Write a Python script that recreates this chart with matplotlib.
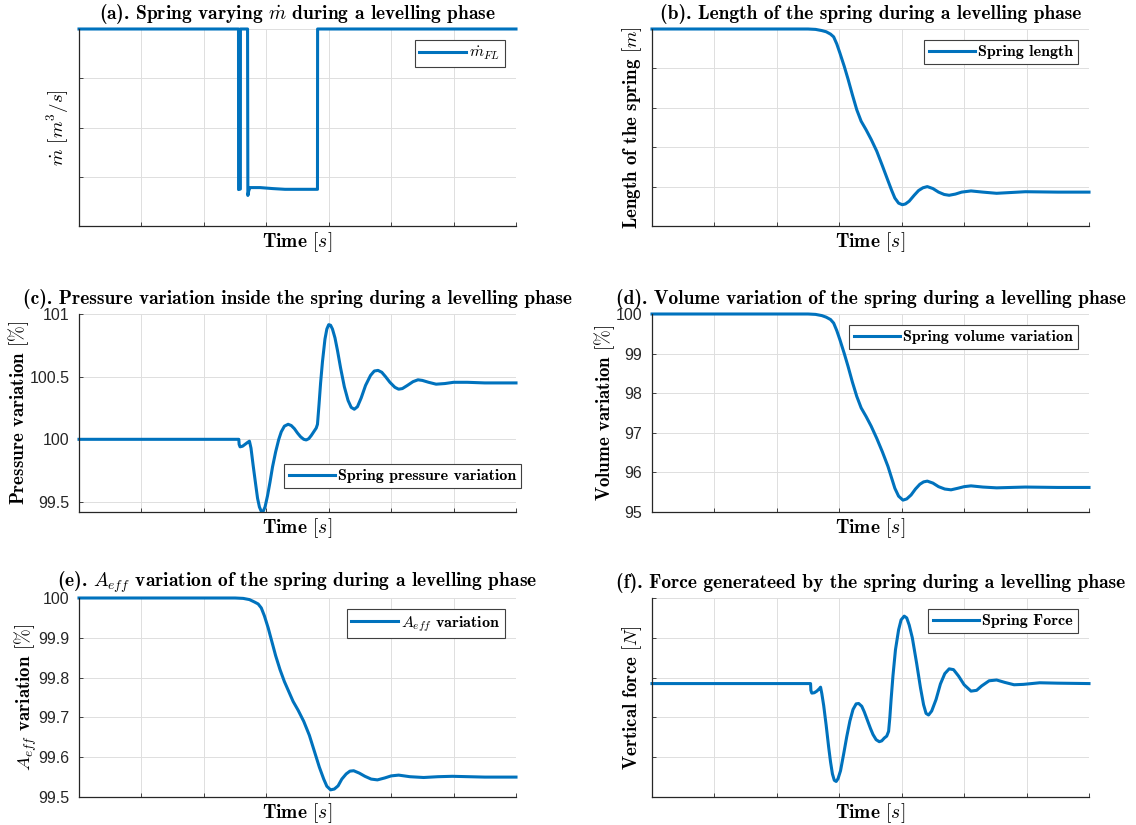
import numpy as np
import matplotlib.pyplot as plt

plt.rcParams['mathtext.fontset'] = 'cm'
plt.rcParams['axes.unicode_minus'] = False

BLUE = '#0072BD'
DARK = '#262626'
GRID = '#dedede'
BOLD = 'cmb10'

# time is given in grid divisions: the time axis carries no labels
# (a) flow rate, in divisions of the (unlabelled) y axis
t_mdot = [0, 2.555, 2.556, 2.585, 2.586, 2.70, 2.705, 2.72, 2.74, 2.90,
          3.10, 3.30, 3.82, 3.822, 7]
mdot = [4, 4, 0.74, 0.75, 4, 4, 0.62, 0.72, 0.78, 0.78,
        0.76, 0.745, 0.745, 4, 4]

# (b) spring length, in divisions of the (unlabelled) y axis
t_len = [0, 2.50, 2.62, 2.72, 2.79, 2.86, 2.91, 2.96, 3.01, 3.08, 3.14, 3.21,
         3.28, 3.35, 3.43, 3.51, 3.60, 3.69, 3.78, 3.84, 3.89, 3.95, 4.01,
         4.06, 4.12, 4.20, 4.27, 4.34, 4.41, 4.50, 4.59, 4.68, 4.76, 4.86,
         4.96, 5.11, 5.30, 5.52, 5.75, 5.98, 6.5, 7]
length = [5, 5, 4.99, 4.96, 4.93, 4.87, 4.80, 4.62, 4.39, 4.05, 3.73, 3.33,
          2.95, 2.66, 2.44, 2.20, 1.90, 1.53, 1.15, 0.90, 0.71, 0.58, 0.54,
          0.56, 0.63, 0.78, 0.90, 0.97, 1.00, 0.95, 0.86, 0.80, 0.78, 0.81,
          0.86, 0.89, 0.86, 0.83, 0.85, 0.87, 0.86, 0.86]

# (c) pressure variation [%]
t_press = [0, 2.56, 2.565, 2.58, 2.62, 2.66, 2.70, 2.73, 2.755, 2.79, 2.83,
           2.86, 2.89, 2.92, 2.95, 2.98, 3.02, 3.06, 3.10, 3.15, 3.20, 3.24,
           3.29, 3.35, 3.40, 3.45, 3.50, 3.55, 3.60, 3.64, 3.68, 3.72, 3.76,
           3.80, 3.82, 3.845, 3.87, 3.90, 3.94, 3.97, 4.00, 4.03, 4.06, 4.10,
           4.14, 4.19, 4.25, 4.31, 4.36, 4.41, 4.46, 4.52, 4.59, 4.67, 4.73,
           4.79, 4.85, 4.91, 4.98, 5.06, 5.12, 5.18, 5.26, 5.35, 5.43, 5.50,
           5.60, 5.72, 5.86, 6.00, 6.22, 6.50, 7]
press = [100, 100, 99.96, 99.94, 99.945, 99.96, 99.975, 99.985, 99.93,
         99.79, 99.64, 99.53, 99.46, 99.425, 99.425, 99.46, 99.55, 99.66,
         99.78, 99.90, 100.00, 100.06, 100.105, 100.12, 100.11, 100.085,
         100.05, 100.02, 100.0, 99.995, 100.005, 100.03, 100.06, 100.09,
         100.12, 100.28, 100.45, 100.62, 100.80, 100.88, 100.915, 100.91,
         100.88, 100.81, 100.71, 100.57, 100.42, 100.31, 100.255, 100.24,
         100.26, 100.33, 100.43, 100.51, 100.545, 100.55, 100.535, 100.50,
         100.455, 100.415, 100.40, 100.405, 100.43, 100.46, 100.475, 100.47,
         100.455, 100.44, 100.445, 100.455, 100.455, 100.45, 100.45]

# (d) volume variation [%]
t_vol = [0, 2.50, 2.62, 2.72, 2.79, 2.86, 2.91, 2.96, 3.01, 3.08, 3.14, 3.21,
         3.28, 3.35, 3.43, 3.51, 3.60, 3.69, 3.78, 3.84, 3.89, 3.95, 4.02,
         4.08, 4.15, 4.22, 4.29, 4.35, 4.41, 4.50, 4.59, 4.69, 4.79, 4.90,
         5.00, 5.11, 5.30, 5.52, 5.75, 5.98, 6.5, 7]
volume = [100, 100, 99.99, 99.96, 99.92, 99.86, 99.77, 99.58, 99.35, 99.00,
          98.68, 98.28, 97.92, 97.63, 97.41, 97.17, 96.86, 96.52, 96.15,
          95.85, 95.60, 95.40, 95.30, 95.33, 95.43, 95.58, 95.70, 95.76,
          95.78, 95.73, 95.64, 95.58, 95.56, 95.60, 95.64, 95.66, 95.63,
          95.61, 95.62, 95.63, 95.62, 95.62]

# (e) effective area variation [%]
t_area = [0, 2.50, 2.63, 2.73, 2.81, 2.87, 2.92, 2.97, 3.03, 3.09, 3.15,
          3.22, 3.29, 3.36, 3.43, 3.51, 3.60, 3.69, 3.77, 3.85, 3.92, 3.97,
          4.03, 4.09, 4.15, 4.21, 4.28, 4.34, 4.40, 4.49, 4.58, 4.68, 4.78,
          4.90, 5.00, 5.12, 5.30, 5.52, 5.75, 5.98, 6.5, 7]
area = [100, 100, 99.999, 99.996, 99.99, 99.985, 99.975, 99.955, 99.925,
        99.89, 99.855, 99.82, 99.79, 99.765, 99.74, 99.718, 99.69, 99.655,
        99.615, 99.575, 99.545, 99.527, 99.518, 99.52, 99.528, 99.545,
        99.558, 99.565, 99.566, 99.56, 99.552, 99.545, 99.543, 99.548,
        99.553, 99.555, 99.551, 99.549, 99.551, 99.552, 99.55, 99.55]

# (f) vertical force, in divisions of the (unlabelled) y axis
t_force = [0, 2.54, 2.545, 2.56, 2.60, 2.64, 2.68, 2.70, 2.72, 2.75, 2.79,
           2.83, 2.86, 2.89, 2.92, 2.95, 2.98, 3.02, 3.07, 3.12, 3.17, 3.22,
           3.27, 3.31, 3.36, 3.40, 3.45, 3.50, 3.54, 3.59, 3.64, 3.68, 3.72,
           3.76, 3.79, 3.81, 3.83, 3.86, 3.90, 3.95, 3.99, 4.04, 4.08, 4.12,
           4.17, 4.24, 4.30, 4.35, 4.39, 4.43, 4.48, 4.55, 4.62, 4.69, 4.76,
           4.83, 4.91, 5.00, 5.11, 5.20, 5.28, 5.40, 5.52, 5.65, 5.80, 5.95,
           6.21, 6.50, 7]
force = [2.85, 2.85, 2.68, 2.61, 2.62, 2.66, 2.72, 2.76, 2.60, 2.30, 1.80,
         1.25, 0.88, 0.58, 0.42, 0.39, 0.46, 0.66, 1.08, 1.52, 1.91, 2.20,
         2.34, 2.35, 2.28, 2.14, 1.93, 1.72, 1.57, 1.44, 1.39, 1.41, 1.48,
         1.53, 1.65, 2.00, 2.45, 3.05, 3.70, 4.20, 4.45, 4.545, 4.50, 4.32,
         4.00, 3.35, 2.75, 2.32, 2.10, 2.06, 2.16, 2.45, 2.84, 3.10, 3.22,
         3.20, 3.04, 2.82, 2.66, 2.68, 2.79, 2.92, 2.94, 2.88, 2.82, 2.83,
         2.87, 2.86, 2.85]

fig = plt.figure(figsize=(11.36, 8.25), dpi=100)

cols = [79 / 1136, 652 / 1136]
width = 437 / 1136
rows = [(226, 197), (512, 198), (797, 199)]

TXT = 14
TICK = 11.5


def make_axes(col, row):
    bottom, height = rows[row]
    return fig.add_axes([cols[col], 1 - bottom / 825, width, height / 825])


def style(ax, title, ylabel, yticks, ytlabels=None, title_pad=7):
    ax.set_xlim(0, 7)
    ax.set_xticks(np.arange(0, 8))
    ax.set_xticklabels([])
    ax.set_yticks(yticks)
    if ytlabels is None:
        ax.set_yticklabels([])
    else:
        ax.set_yticklabels(ytlabels, fontfamily='Liberation Sans')
    for side in ['top', 'right']:
        ax.spines[side].set_visible(False)
    for side in ['left', 'bottom']:
        ax.spines[side].set_color(DARK)
        ax.spines[side].set_linewidth(0.9)
    ax.tick_params(direction='in', length=3, width=0.6, colors=DARK,
                   labelsize=TICK)
    ax.tick_params(axis='y', pad=7)
    ax.tick_params(axis='x', pad=3)
    ax.grid(True, color=GRID, linewidth=0.7)
    ax.set_axisbelow(True)
    ax.set_title(title, fontfamily=BOLD, fontsize=TXT, color='black',
                 pad=title_pad)
    ax.set_xlabel(r'Time $[s]$', fontfamily=BOLD, fontsize=TXT, labelpad=0)
    ax.set_ylabel(ylabel, fontfamily=BOLD, fontsize=13.6, labelpad=-1)


def add_legend(ax, label, **kw):
    leg = ax.legend([label], loc=kw.pop('loc', 'upper right'),
                    prop={'family': BOLD, 'size': 11.5}, fancybox=False,
                    framealpha=1, edgecolor='#404040', handlelength=2.9,
                    handletextpad=0.2, borderpad=0.3,
                    borderaxespad=kw.pop('borderaxespad', 0.7), **kw)
    leg.get_frame().set_linewidth(0.8)


# (a)
ax = make_axes(0, 0)
ax.plot(t_mdot, mdot, color=BLUE, lw=2.2, clip_on=False)
ax.set_ylim(0, 4)
style(ax, r'(a). Spring varying $\dot{m}$ during a levelling phase',
      r'$\dot{m}$ $[m^3/s]$', np.arange(0, 5))
add_legend(ax, r'$\dot{m}_{FL}$')

# (b)
ax = make_axes(1, 0)
ax.plot(t_len, length, color=BLUE, lw=2.2, clip_on=False)
ax.set_ylim(0, 5)
style(ax, '(b). Length of the spring during a levelling phase',
      r'Length of the spring $[m]$', np.arange(0, 6))
add_legend(ax, 'Spring length')

# (c)
ax = make_axes(0, 1)
ax.plot(t_press, press, color=BLUE, lw=2.2, clip_on=False)
ax.set_ylim(99.42, 101)
style(ax, '(c). Pressure variation inside the spring during a levelling phase',
      r'Pressure variation $[\%]$', [99.5, 100, 100.5, 101],
      ['99.5', '100', '100.5', '101'])
add_legend(ax, 'Spring pressure variation', loc='lower right',
           bbox_to_anchor=(1.012, 0.121), borderaxespad=0)

# (d)
ax = make_axes(1, 1)
ax.plot(t_vol, volume, color=BLUE, lw=2.2, clip_on=False)
ax.set_ylim(95, 100)
style(ax, '(d). Volume variation of the spring during a levelling phase',
      r'Volume variation $[\%]$', np.arange(95, 101),
      ['95', '96', '97', '98', '99', '100'])
add_legend(ax, 'Spring volume variation')

# (e)
ax = make_axes(0, 2)
ax.plot(t_area, area, color=BLUE, lw=2.2, clip_on=False)
ax.set_ylim(99.5, 100)
style(ax, r'(e). $A_{eff}$ variation of the spring during a levelling phase',
      r'$A_{eff}$ variation $[\%]$', [99.5, 99.6, 99.7, 99.8, 99.9, 100],
      ['99.5', '99.6', '99.7', '99.8', '99.9', '100'], title_pad=8.5)
add_legend(ax, r'$A_{eff}$ variation')

# (f)
ax = make_axes(1, 2)
ax.plot(t_force, force, color=BLUE, lw=2.2, clip_on=False)
ax.set_ylim(0, 5)
style(ax, '(f). Force generateed by the spring during a levelling phase',
      r'Vertical force $[N]$', np.arange(0, 6))
add_legend(ax, 'Spring Force')

fig.savefig('out.png', dpi=100)
